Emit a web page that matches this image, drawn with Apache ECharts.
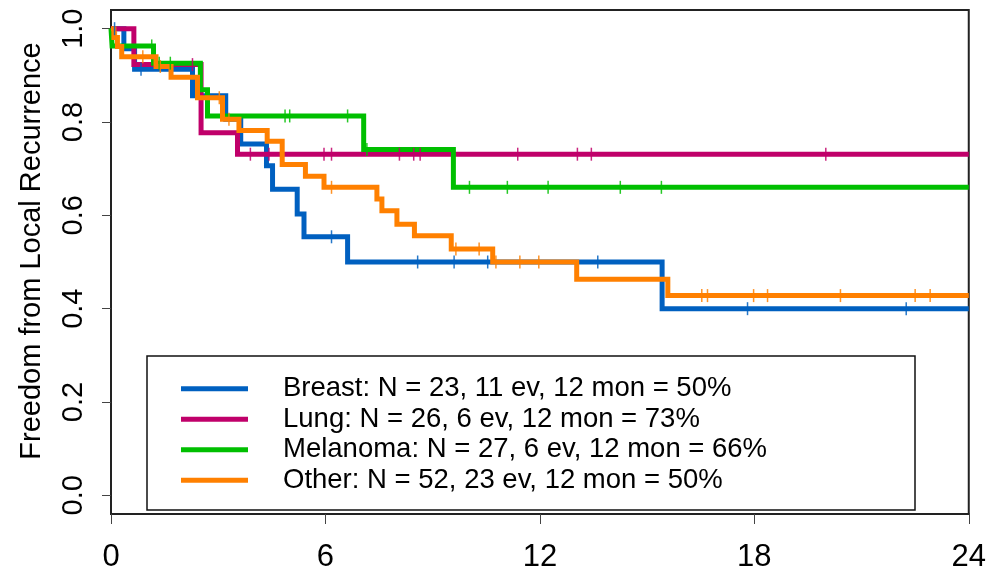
<!DOCTYPE html>
<html>
<head>
<meta charset="utf-8">
<script src="https://cdn.jsdelivr.net/npm/echarts@6.0.0/dist/echarts.min.js"></script>
<style>
html, body { margin: 0; padding: 0; background: #fff; }
#chart { width: 989px; height: 573px; }
</style>
</head>
<body>
<div id="chart"></div>
<script>
// legend labels
var groupNames = [
    'Breast: N = 23, 11 ev, 12 mon = 50%',
    'Lung: N = 26, 6 ev, 12 mon = 73%',
    'Melanoma: N = 27, 6 ev, 12 mon = 66%',
    'Other: N = 52, 23 ev, 12 mon = 50%'
];
var groupColors = ['#0060C0', '#C0006A', '#00BF00', '#FF8000'];

// step points (months, survival)
var breastT = [0, 0.36, 0.66, 2.28, 3.21, 3.63, 4.35, 4.52, 5.21, 5.40, 6.62, 15.42, 24];
var breastS = [1, 0.957, 0.913, 0.856, 0.806, 0.753, 0.706, 0.656, 0.603, 0.554, 0.50, 0.40, 0.40];

var lungT = [0, 0.64, 2.52, 3.54, 24];
var lungS = [1, 0.923, 0.777, 0.731, 0.731];

var melT = [0, 0.03, 1.19, 2.50, 2.70, 7.07, 9.58, 24];
var melS = [1, 0.963, 0.926, 0.869, 0.813, 0.741, 0.66, 0.66];

var otherT = [0, 0.08, 0.18, 0.3, 1.26, 1.68, 2.42, 3.12, 3.58, 4.37, 4.79, 5.44, 5.96, 7.44, 7.58, 8.0, 8.49, 9.52, 10.68, 13.03, 15.58, 24];
var otherS = [1, 0.981, 0.962, 0.940, 0.919, 0.896, 0.852, 0.806, 0.782, 0.759, 0.709, 0.684, 0.66, 0.635, 0.61, 0.581, 0.556, 0.528, 0.50, 0.463, 0.428, 0.428];

// censoring times
var breastC = [0.1, 0.84, 6.17, 8.58, 9.60, 10.54, 13.62, 17.81, 22.25];
var lungC = [2.28, 3.9, 4.42, 5.96, 6.17, 8.07, 8.47, 8.65, 11.38, 13.05, 13.44, 20.0];
var melC = [1.14, 1.35, 1.66, 4.87, 5.0, 6.62, 7.16, 10.03, 11.09, 12.23, 14.25, 15.4];
var otherC = [0.15, 0.89, 1.38, 3.03, 3.3, 6.17, 9.65, 10.3, 10.77, 11.44, 11.97, 16.53, 16.69, 17.98, 18.37, 20.41, 22.5, 22.92];

var xTicks = [0, 6, 12, 18, 24];
var yTicks = [0, 0.2, 0.4, 0.6, 0.8, 1.0];

var curves = [
    {t: breastT, s: breastS, c: breastC},
    {t: lungT, s: lungS, c: lungC},
    {t: melT, s: melS, c: melC},
    {t: otherT, s: otherS, c: otherC}
];

function survAt(curve, time){
    var v = curve.s[0];
    for(var i = 0; i < curve.t.length; i++){
        if(curve.t[i] <= time) v = curve.s[i];
    }
    return v;
}

var series = [];
for(var k = 0; k < curves.length; k++){
    var cv = curves[k];
    var pts = [];
    for(var i = 0; i < cv.t.length; i++){
        pts.push([cv.t[i], cv.s[i]]);
    }
    series.push({
        type: 'line',
        name: groupNames[k],
        data: pts,
        step: 'end',
        showSymbol: false,
        color: groupColors[k],
        lineStyle: { color: groupColors[k], width: 5, join: 'miter' },
        z: 2 + k
    });
}
for(var k = 0; k < curves.length; k++){
    var cv = curves[k];
    var marks = [];
    for(var i = 0; i < cv.c.length; i++){
        marks.push([cv.c[i], survAt(cv, cv.c[i])]);
    }
    series.push({
        type: 'scatter',
        name: 'cens' + k,
        data: marks,
        symbol: 'rect',
        symbolSize: [1.5, 13],
        itemStyle: { color: groupColors[k], opacity: 0.85 },
        z: 10
    });
}

var myChart = echarts.init(document.getElementById('chart'));
var option = {
    backgroundColor: '#fff',
    animation: false,
    textStyle: { fontFamily: 'Liberation Sans, Arial, sans-serif' },
    grid: {
        left: 111,
        right: 17,
        top: 10,
        bottom: 57,
        show: true,
        borderColor: '#222',
        borderWidth: 2,
        backgroundColor: 'transparent'
    },
    xAxis: {
        type: 'value',
        min: 0,
        max: 24,
        interval: 6,
        axisLine: { show: true, onZero: false, lineStyle: { color: '#222', width: 2 } },
        axisTick: { show: true, length: 10, lineStyle: { color: '#444', width: 1 } },
        axisLabel: {
            customValues: xTicks,
            color: '#000',
            fontSize: 31,
            margin: 28,
            fontFamily: 'Liberation Sans'
        },
        splitLine: { show: false }
    },
    yAxis: {
        type: 'value',
        min: -0.04,
        max: 1.04,
        axisLine: { show: true, onZero: false, lineStyle: { color: '#222', width: 2 } },
        axisTick: { show: true, length: 9, customValues: yTicks, lineStyle: { color: '#444', width: 1 } },
        axisLabel: {
            customValues: yTicks,
            rotate: 90,
            color: '#000',
            fontSize: 29,
            margin: 23,
            fontFamily: 'Liberation Sans',
            formatter: function (value) {
                return Number(value).toFixed(1);
            }
        },
        splitLine: { show: false }
    },
    legend: {
        data: groupNames,
        orient: 'vertical',
        left: 181,
        top: 374,
        padding: 0,
        itemWidth: 67,
        itemHeight: 5,
        itemGap: 1,
        icon: 'rect',
        selectedMode: false,
        textStyle: {
            fontSize: 27.5,
            color: '#000',
            lineHeight: 29.5,
            padding: [0, 0, 0, 30],
            fontFamily: 'Liberation Sans'
        }
    },
    graphic: [
        {
            type: 'rect',
            shape: { x: 147, y: 356, width: 768, height: 154 },
            style: { fill: 'none', stroke: '#111', lineWidth: 1.5 },
            z: 1
        },
        {
            type: 'text',
            x: 32,
            y: 251,
            rotation: Math.PI / 2,
            style: {
                text: 'Freedom from Local Recurrence',
                font: '29px "Liberation Sans"',
                fill: '#000',
                align: 'center',
                verticalAlign: 'middle'
            }
        }
    ],
    series: series
};
myChart.setOption(option);
</script>
</body>
</html>
